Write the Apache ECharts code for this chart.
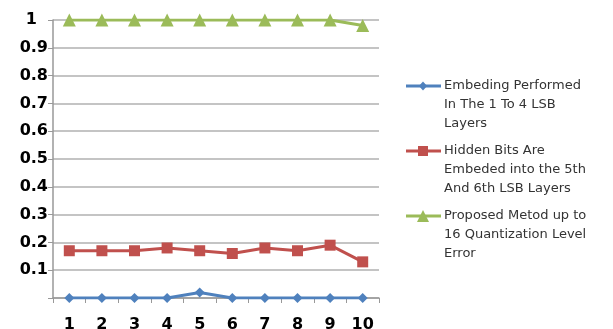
<!DOCTYPE html>
<html>
<head>
<meta charset="utf-8">
<style>
  html, body { margin: 0; padding: 0; background: #fff; }
  #chart { width: 613px; height: 329px; }
</style>
<script src="https://cdn.jsdelivr.net/npm/echarts@6/dist/echarts.min.js"></script>
</head>
<body>
<div id="chart"></div>
<script>
// Categories along the x axis
const categories = ['1', '2', '3', '4', '5', '6', '7', '8', '9', '10'];

// Series values
const embedLsb14 = [0, 0, 0, 0, 0.02, 0, 0, 0, 0, 0];
const hiddenBits56 = [0.17, 0.17, 0.17, 0.18, 0.17, 0.16, 0.18, 0.17, 0.19, 0.13];
const proposedMethod = [1, 1, 1, 1, 1, 1, 1, 1, 1, 0.98];

// Y tick values
const yTicks = [0, 0.1, 0.2, 0.3, 0.4, 0.5, 0.6, 0.7, 0.8, 0.9, 1];

// Series names, split into the lines shown in the legend
const seriesNames = [
  ['Embeding Performed', 'In The 1 To 4 LSB', 'Layers'],
  ['Hidden Bits Are', 'Embeded into the 5th', 'And 6th LSB Layers'],
  ['Proposed Metod up to', '16 Quantization Level', 'Error']
];

const colors = ['#4F81BD', '#C0504D', '#9BBB59'];
const symbols = ['diamond', 'rect', 'triangle'];
const symbolSizes = [10, 11, 13];
const seriesData = [embedLsb14, hiddenBits56, proposedMethod];

const chart = echarts.init(document.getElementById('chart'), null, { renderer: 'canvas' });

const series = seriesData.map((d, i) => ({
  name: seriesNames[i].join(' '),
  type: 'line',
  data: d,
  symbol: symbols[i],
  symbolSize: symbolSizes[i],
  showAllSymbol: true,
  lineStyle: { color: colors[i], width: 3 },
  itemStyle: { color: colors[i] },
  animation: false,
  z: 3 + i
}));

// Legend drawn as line + marker with wrapped names
const legendX = 406, legendLineW = 35, markX = 423, textX = 444;
const groupTops = [86, 151, 216];
const lineGap = 18.7;
const graphics = [];
seriesNames.forEach((lines, i) => {
  const y = groupTops[i];
  graphics.push({
    type: 'line',
    shape: { x1: legendX, y1: y, x2: legendX + legendLineW, y2: y },
    style: { stroke: colors[i], lineWidth: 3 }
  });
  const s = symbolSizes[i] - 1;
  if (symbols[i] === 'diamond') {
    graphics.push({ type: 'polygon', shape: { points: [[markX, y - s / 2], [markX + s * 0.45, y], [markX, y + s / 2], [markX - s * 0.45, y]] }, style: { fill: colors[i] } });
  } else if (symbols[i] === 'rect') {
    graphics.push({ type: 'rect', shape: { x: markX - s / 2, y: y - s / 2, width: s, height: s }, style: { fill: colors[i] } });
  } else {
    graphics.push({ type: 'polygon', shape: { points: [[markX, y - s / 2], [markX + s / 2, y + s / 2], [markX - s / 2, y + s / 2]] }, style: { fill: colors[i] } });
  }
  lines.forEach((t, k) => {
    graphics.push({
      type: 'text',
      x: textX,
      y: y + k * lineGap,
      style: {
        text: t,
        fill: '#333',
        font: '13px "DejaVu Sans"',
        verticalAlign: 'middle',
        align: 'left'
      }
    });
  });
});

chart.setOption({
  backgroundColor: '#fff',
  animation: false,
  grid: { left: 53, right: 234, top: 20, bottom: 31, outerBoundsMode: 'none', containLabel: false },
  xAxis: {
    type: 'category',
    data: categories,
    boundaryGap: true,
    axisLine: { lineStyle: { color: '#999', width: 1.5 } },
    axisTick: { show: true, length: 5, interval: 0, lineStyle: { color: '#999' } },
    axisLabel: {
      margin: 19,
      color: '#000',
      fontFamily: 'DejaVu Sans',
      fontWeight: 'bold',
      fontSize: 16
    }
  },
  yAxis: {
    type: 'value',
    min: yTicks[0],
    max: yTicks[yTicks.length - 1],
    interval: 0.1,
    axisLine: { show: true, lineStyle: { color: '#999', width: 1.5 } },
    axisTick: { show: true, length: 5, lineStyle: { color: '#999' } },
    splitLine: { show: true, lineStyle: { color: '#b0b0b0', width: 1.5 } },
    axisLabel: {
      margin: 5,
      color: '#000',
      fontFamily: 'DejaVu Sans',
      fontWeight: 'bold',
      fontSize: 16,
      // the top label sits one digit-width in from the axis
      formatter: v => (Math.abs(v) < 1e-9 ? '' : (Math.abs(v - 1) < 1e-9 ? '1\u2007' : v.toFixed(1)))
    }
  },
  series: series,
  graphic: graphics
});
</script>
</body>
</html>
